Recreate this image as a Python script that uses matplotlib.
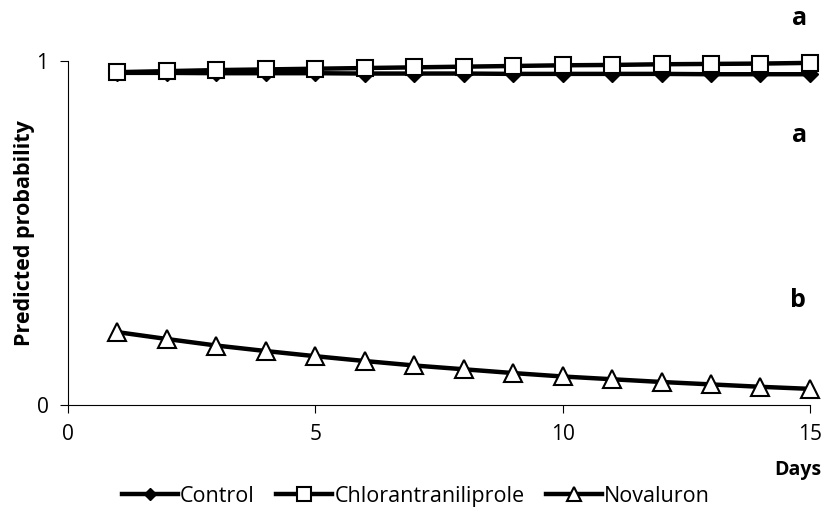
import matplotlib
matplotlib.use('Agg')
import matplotlib.pyplot as plt

days = list(range(1, 16))
control = [0.966, 0.966, 0.965, 0.965, 0.965, 0.964, 0.964, 0.964, 0.963, 0.963, 0.963, 0.963, 0.962, 0.962, 0.962]
chlorantraniliprole = [0.968, 0.971, 0.974, 0.976, 0.978, 0.980, 0.982, 0.984, 0.986, 0.988, 0.989, 0.991, 0.992, 0.993, 0.995]
novaluron = [0.212, 0.192, 0.173, 0.157, 0.142, 0.128, 0.115, 0.104, 0.093, 0.083, 0.075, 0.067, 0.060, 0.053, 0.047]

plt.rcParams['font.family'] = ['Open Sans', 'DejaVu Sans']

fig = plt.figure(figsize=(8.29, 5.14), dpi=100)
ax = fig.add_axes([0.082, 0.212, 0.895, 0.669])

ax.plot(days, control, color='black', lw=3.2, marker='D', ms=8,
        mfc='black', mec='black', label='Control', clip_on=False, zorder=3)
ax.plot(days, chlorantraniliprole, color='black', lw=3.2, marker='s', ms=12,
        mfc='white', mec='black', mew=1.5, label='Chlorantraniliprole', clip_on=False, zorder=4)
ax.plot(days, novaluron, color='black', lw=3.2, marker='^', ms=13,
        mfc='white', mec='black', mew=1.5, label='Novaluron', clip_on=False, zorder=3)

ax.set_xlim(0, 15)
ax.set_ylim(0, 1)
ax.set_xticks([0, 5, 10, 15])
ax.set_yticks([0, 1])
ax.tick_params(direction='out', length=6, labelsize=15)
ax.tick_params(axis='x', pad=8)
ax.tick_params(axis='y', pad=8)
for s in ['top', 'right']:
    ax.spines[s].set_visible(False)

ax.set_ylabel('Predicted probability', fontsize=15.5, fontweight='bold', labelpad=1)
ax.text(0.983, -0.19, 'Days', transform=ax.transAxes, fontsize=14,
        fontweight='bold', ha='center', va='center')

ax.text(14.8, 1.125, 'a', fontsize=18, fontweight='bold', ha='center', va='center', clip_on=False)
ax.text(14.8, 0.785, 'a', fontsize=18, fontweight='bold', ha='center', va='center', clip_on=False)
ax.text(14.75, 0.305, 'b', fontsize=18, fontweight='bold', ha='center', va='center', clip_on=False)

ax.legend(loc='center', bbox_to_anchor=(0.469, -0.265), ncol=3, frameon=False,
          fontsize=15.5, handlelength=2.6, handletextpad=0.1, columnspacing=1.0, markerscale=0.8)

fig.savefig('out.png', dpi=100)
